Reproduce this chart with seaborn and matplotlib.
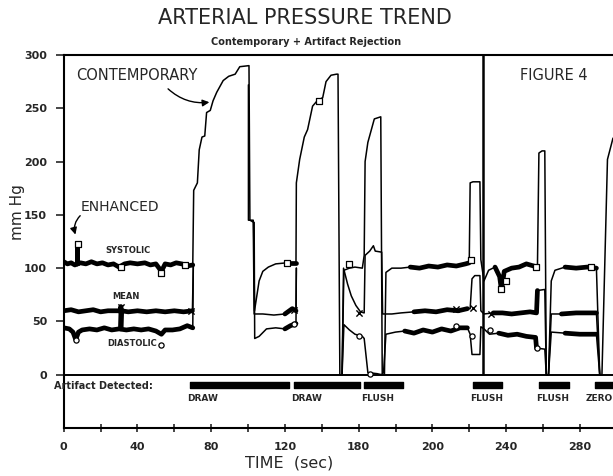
import numpy as np
import pandas as pd
import matplotlib.pyplot as plt
import seaborn as sns

# valores, None = corte de la traza
sys_t = [0, 2, 4, 6, 7.5, 7.5, 7.5, 9, 12, 15, 18, 21, 24, 27, 30, 33, 36, 40, 44, 47, 50, 53, 55, 58, 61, 64, 67, 70,
         70.5, 72.5, 73.5, 75, 76.5, 77.5, 79.5, 81, 83, 86.5, 89.5, 93, 95.5, 100.5, 101, 103, 103.5, 106, 108, 111, 115, 121, 126,
         126.2, 128, 130.5, 132.3, 135, 137.5, 140.5, 142.3, 145, 148, 148.8, 149.8, 151, 152, 155, 158, 162, 163,
         163.5, 165, 168.5, 172, 172.8, 174, 174.8, 178, 183, 188, 193, 198, 203, 208, 213, 218, 220,
         220.5, 222, 225.8, 226.3, 228, 230.5, 234, 236.5, 237.5, 239, 243, 247, 251, 255, 257,
         257.8, 259.5, 261, 261.8, 263, 264.5, 266.5, 272, 278, 284, 289, 290.8, 292, 295, 298]
sys_v = [106, 104, 105, 103, 104, 121, 104, 105, 104, 106, 104, 105, 103, 104, 101, 104, 105, 104, 105, 103, 104, 97, 104, 103, 105, 104, 102, 103,
         173, 180, 211, 223, 224, 246, 248, 257, 265, 276, 280, 282, 289, 290, 145, 143, 60, 88, 97, 101, 104, 105, 105,
         180, 202, 223, 230, 252, 257, 260, 275, 281, 282, 282, 0, 0, 98, 100, 101, 100, 112,
         200, 218, 240, 242, 0, 0, 96, 100, 100, 101, 100, 102, 101, 103, 102, 104, 105,
         180, 181, 181, 108, 88, 98, 101, 92, 79, 97, 100, 101, 104, 102, 100,
         208, 210, 210, 0, 0, 88, 98, 101, 100, 101, 100, 0, 0, 202, 222]

mean_t = [0, 4, 8, 12, 16, 20, 24, 28, 30.8, 31, 31, 31.3, 35, 40, 45, 50, 55, 60, 65, 69.8, 70.3, None,
          100.2, 100.2, 102.8, 103.3, 108, 114, 120, 124, 126, 126.2, None,
          151, 151.8, 154, 156, 158.5, 161, 163, 163.5, 166, 168, 169, 172.5, 173, 178, 183, 190, 196, 202, 208, 214, 219, 220.5,
          221.5, 223, 225.8, 226.3, 228, 233, 238, 243, 248, 253, 256.5, 257, 261, 261.8, 263, 264.5, 270, 278, 285, 289, 290.8]
mean_v = [60, 61, 59, 60, 61, 59, 60, 60, 60, 64, 43, 60, 59, 60, 59, 60, 59, 60, 59, 60, 103, None,
          272, 145, 145, 57, 57, 56, 57, 62, 60, 100, None,
          0, 100, 85, 74, 65, 59, 58, 112, 116, 121, 116, 115, 57, 57, 58, 59, 60, 59, 61, 60, 62, 62,
          90, 93, 93, 60, 57, 58, 58, 57, 58, 59, 58, 79, 80, 0, 0, 57, 57, 58, 58, 58, 0]

dia_t = [0, 3, 5, 6.5, 8, 10, 14, 18, 22, 26, 30, 34, 38, 42, 46, 50, 53, 55, 59, 63, 67, 70, 70.3, None,
         103.3, 103.6, 106, 110, 115, 120, 123, 126, 126.2, None,
         151, 152, 155, 158, 162, 163, 165, 170, 172.5, 173.5, 174.8, 180, 185, 190, 195, 200, 205, 210, 215, 219,
         220.5, 221.5, 225.8, 226.3, 228, 231, 236, 241, 246, 251, 256, 256.5, 261, 261.8, 263, 264.5, 272, 280, 289, 290.8]
dia_v = [44, 43, 40, 33, 40, 42, 43, 42, 44, 42, 43, 42, 43, 42, 43, 41, 38, 42, 42, 43, 46, 44, 103, None,
         143, 34, 36, 43, 44, 43, 46, 48, 100, None,
         0, 47, 42, 38, 36, 34, 2, 1, 0, 2, 38, 40, 41, 39, 42, 40, 43, 41, 44, 44,
         38, 19, 19, 45, 43, 38, 39, 37, 38, 36, 35, 25, 24, 0, 0, 40, 39, 38, 38, 0]

# marcas de "enhanced"
sq_t = [7.5, 31, 53, 66, 121, 138.5, 155, 221, 237.5, 240, 256, 286]
sq_v = [123, 101, 95, 103, 105, 257, 104, 108, 80, 88, 101, 101]
x_t = [31, 69, 125, 160, 213, 222, 232]
x_v = [64, 60, 61, 58, 62, 63, 57]
o_t = [6.5, 53, 125, 160, 166, 213, 221.5, 231, 257]
o_v = [33, 28, 48, 36, 1, 46, 36, 42, 25]

zero_t = 227.5

art_start = [68.5, 125, 163, 222, 258, 288]
art_len = [53.5, 35.5, 21, 16, 16, 12]
art_lab = ["DRAW", "DRAW", "FLUSH", "FLUSH", "FLUSH", "ZERO"]

xticks = [0, 40, 80, 120, 160, 200, 240, 280]
xtick_lab = ["0", "40", "80", "120", "180", "200", "240", "280"]
yticks = [0, 50, 100, 150, 200, 250, 300]

thick_spans = [(0, 70), (120, 126), (185, 220), (232, 257), (268, 289)]


def to_frame(ts, vs, name):
    rows = []
    seg = 0
    for t, v in zip(ts, vs):
        if t is None:
            seg += 1
            continue
        rows.append((t, v, f"{name}{seg}"))
    return pd.DataFrame(rows, columns=["t", "v", "seg"])


df = pd.concat([to_frame(sys_t, sys_v, "s"), to_frame(mean_t, mean_v, "m"),
                to_frame(dia_t, dia_v, "d")], ignore_index=True)

thick = []
for i, (lo, hi) in enumerate(thick_spans):
    part = df[(df.t >= lo) & (df.t <= hi)].copy()
    part["seg"] = part["seg"] + f"_{i}"
    thick.append(part)
thick = pd.concat(thick, ignore_index=True)

sns.set_style("ticks")
plt.rcParams["font.family"] = ["DejaVu Sans"]

fig = plt.figure(figsize=(6.13, 4.76), dpi=100)
ax = fig.add_axes([0.104, 0.1008, 0.896, 0.7837])

sns.lineplot(data=df, x="t", y="v", units="seg", estimator=None, sort=False,
             color="black", lw=1.1, ax=ax, legend=False)
sns.lineplot(data=thick, x="t", y="v", units="seg", estimator=None, sort=False,
             color="black", lw=3.4, ax=ax, legend=False)

sns.scatterplot(x=sq_t, y=sq_v, marker="s", s=18, facecolor="white", edgecolor="black",
                linewidth=0.9, ax=ax, zorder=5)
sns.scatterplot(x=x_t, y=x_v, marker="x", s=20, color="black", linewidth=1.0, ax=ax, zorder=5)
sns.scatterplot(x=o_t, y=o_v, marker="o", s=14, facecolor="white", edgecolor="black",
                linewidth=0.9, ax=ax, zorder=5)

ax.vlines(zero_t, 0, 300, color="black", lw=1.8)
ax.axhline(0, color="black", lw=1.4)

ax.broken_barh(list(zip(art_start, art_len)), (-12.5, 5.5), color="black")
for s, lab in zip(art_start, art_lab):
    if lab == "ZERO":
        ax.text(298, -22.5, lab, ha="right", va="center", fontsize=6.5, fontweight="bold")
    else:
        ax.text(s - 1.5, -22.5, lab, ha="left", va="center", fontsize=6.5, fontweight="bold")
ax.text(-5.5, -11, "Artifact Detected:", ha="left", va="center", fontsize=7,
        fontweight="bold", clip_on=False)

ax.text(35, 117, "SYSTOLIC", ha="center", va="center", fontsize=6, fontweight="bold")
ax.text(34, 73, "MEAN", ha="center", va="center", fontsize=6, fontweight="bold")
ax.text(37, 29, "DIASTOLIC", ha="center", va="center", fontsize=6, fontweight="bold")
ax.text(9, 157, "ENHANCED", ha="left", va="center", fontsize=10)
ax.annotate("", xy=(6.8, 129), xytext=(10, 151),
            arrowprops=dict(arrowstyle="-|>", color="black", lw=1, connectionstyle="arc3,rad=0.35"))
ax.text(6.5, 281, "CONTEMPORARY", ha="left", va="center", fontsize=10.5)
ax.annotate("", xy=(80.5, 256), xytext=(55.5, 270),
            arrowprops=dict(arrowstyle="-|>", color="black", lw=1, connectionstyle="arc3,rad=0.25"))
ax.text(266, 281, "FIGURE 4", ha="center", va="center", fontsize=10.5)

ax.set_xlim(0, 298)
ax.set_ylim(-50, 300)
ax.set_yticks(yticks)
ax.set_xticks(xticks)
ax.set_xticklabels(xtick_lab)
ax.set_xticks([20, 60, 100, 140, 180, 220, 260], minor=True)
ax.tick_params(axis="y", direction="out", length=6, width=1.2, labelsize=8, pad=6)
ax.tick_params(axis="x", which="both", direction="inout", length=6, width=1.2, labelsize=8, pad=7)
for lab in ax.get_xticklabels() + ax.get_yticklabels():
    lab.set_fontweight("bold")

for side in ["top", "left", "bottom"]:
    ax.spines[side].set_linewidth(1.5)
    ax.spines[side].set_color("black")
ax.spines["right"].set_visible(False)

ax.set_xlabel("TIME  (sec)", fontsize=11.5)
ax.xaxis.set_label_coords(0.41, -0.075)
ax.set_ylabel("mm Hg", fontsize=11)
ax.yaxis.set_label_coords(-0.07, 0.58)

fig.text(0.497, 0.962, "ARTERIAL PRESSURE TREND", ha="center", va="center", fontsize=15)
fig.text(0.5, 0.912, "Contemporary + Artifact Rejection", ha="center", va="center",
         fontsize=7, fontweight="bold")

fig.savefig("out.png", dpi=100)
